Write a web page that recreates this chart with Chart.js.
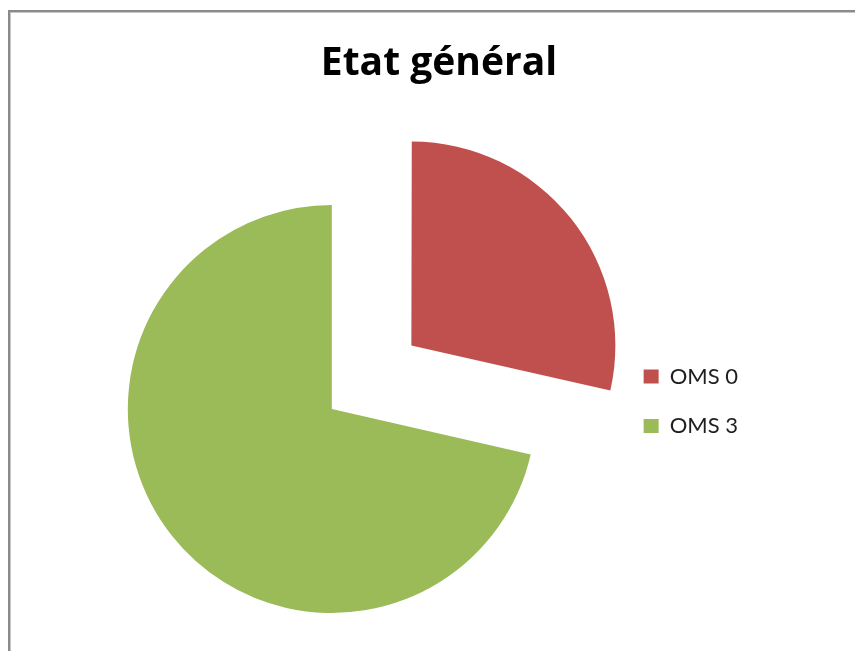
<!DOCTYPE html>
<html>
<head>
<meta charset="utf-8">
<title>Etat général</title>
<script src="https://cdn.jsdelivr.net/npm/chart.js@4/dist/chart.umd.min.js"></script>
<style>
  html, body { margin: 0; padding: 0; background: #fff; overflow: hidden; width: 855px; height: 651px; }
  #frame {
    position: absolute; left: 8px; top: 10px; width: 900px; height: 700px;
    border-left: 2px solid #8a8a8a; border-top: 2px solid #8a8a8a;
    box-shadow: inset 1px 1px 0 #c6c6c6;
  }
  #title {
    position: absolute; left: 0; top: 40px; width: 878px; text-align: center;
    font: bold 39px/39px "Open Sans", Lato, sans-serif; color: #000; white-space: nowrap;
  }
  #chart { position: absolute; left: 0; top: 0; }
</style>
</head>
<body>
<div id="frame"></div>
<canvas id="chart" width="855" height="651"></canvas>
<div id="title">Etat général</div>
<script>
// Performance status (WHO / OMS grade) of the patients
const categories = ['OMS 0', 'OMS 3'];
const patientCounts = [2, 5];

// An exploded slice is pulled out along its bisector (by offset / 4 px);
// Chart.js also grows its radius slightly while doing so, so take that back off.
const explodeKeepRadius = {
  id: 'explodeKeepRadius',
  afterDatasetsUpdate(chart) {
    chart.getSortedVisibleDatasetMetas().forEach(meta => {
      meta.data.forEach(arc => {
        const off = ((arc.options && arc.options.offset) || 0) / 4;
        if (!off) return;
        const fix = 1 - Math.sin(Math.min(Math.PI, arc.circumference || 0));
        arc.outerRadius -= off * fix;
      });
    });
  }
};

new Chart(document.getElementById('chart'), {
  type: 'pie',
  data: {
    labels: categories,
    datasets: [{
      data: patientCounts,
      backgroundColor: ['#C0504D', '#9BBB59'],
      borderWidth: 0,
      offset: [407, 0],
      radius: 204,
      clip: false
    }]
  },
  options: {
    responsive: false,
    animation: false,
    devicePixelRatio: 1,
    cutout: '0%',
    layout: { padding: { left: 47.5, right: 107, top: 338, bottom: 171 } },
    plugins: {
      title: { display: false },
      tooltip: { enabled: false },
      legend: {
        position: 'right',
        align: 'start',
        labels: {
          boxWidth: 15,
          boxHeight: 14,
          padding: 27.5,
          color: '#1e1e1e',
          font: { family: 'Lato', size: 22 }
        }
      }
    }
  },
  plugins: [explodeKeepRadius]
});
</script>
</body>
</html>
